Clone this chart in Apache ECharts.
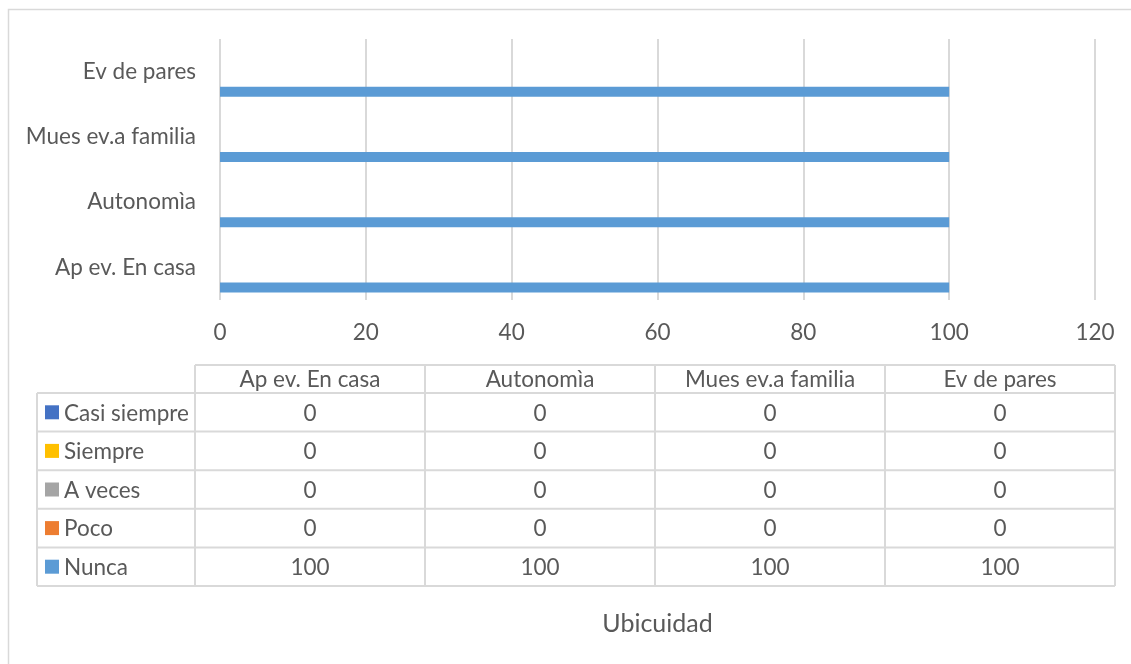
<!DOCTYPE html>
<html>
<head>
<meta charset="utf-8">
<script src="https://cdn.jsdelivr.net/npm/echarts@6/dist/echarts.min.js"></script>
<style>
html,body{margin:0;padding:0;background:#fff;}
#c{width:1131px;height:664px;}
</style>
</head>
<body>
<div id="c"></div>
<script>
// ---- data ----
const categories = ['Ap ev. En casa', 'Autonomìa', 'Mues ev.a familia', 'Ev de pares'];
const seriesNames = ['Casi siempre', 'Siempre', 'A veces', 'Poco', 'Nunca'];
const casiSiempre = [0, 0, 0, 0];
const siempre = [0, 0, 0, 0];
const aVeces = [0, 0, 0, 0];
const poco = [0, 0, 0, 0];
const nunca = [100, 100, 100, 100];
const seriesData = [casiSiempre, siempre, aVeces, poco, nunca];
const seriesColors = ['#4472C4', '#FFC000', '#A5A5A5', '#ED7D31', '#5B9BD5'];
const axisTitle = 'Ubicuidad';

// ---- style ----
const FONT = 'Lato';
const FS = 22.5;
const TXT = '#595959';
const LINE = '#D9D9D9';

const chart = echarts.init(document.getElementById('c'), null, {renderer: 'canvas'});

// table layout
const T = {left: 37, colStart: 195, colW: 230, top: 365, headH: 28, rowH: 38.6};
const tRight = T.colStart + T.colW * categories.length;
const gEls = [];
// outer frame
gEls.push({type: 'rect', shape: {x: 8.5, y: 9.5, width: 1140, height: 680},
  style: {fill: 'none', stroke: LINE, lineWidth: 1.5}, silent: true});
function hLine(x1, x2, y) {
  gEls.push({type: 'line', shape: {x1: x1, y1: y, x2: x2, y2: y}, style: {stroke: LINE, lineWidth: 2}, silent: true});
}
function vLine(x, y1, y2) {
  gEls.push({type: 'line', shape: {x1: x, y1: y1, x2: x, y2: y2}, style: {stroke: LINE, lineWidth: 2}, silent: true});
}
const rowTop0 = T.top + T.headH;
const tBottom = rowTop0 + T.rowH * seriesNames.length;
hLine(T.colStart, tRight, T.top);
for (let i = 0; i <= seriesNames.length; i++) hLine(T.left, tRight, rowTop0 + i * T.rowH);
vLine(T.left, rowTop0, tBottom);
for (let j = 0; j <= categories.length; j++) vLine(T.colStart + j * T.colW, T.top, tBottom);
// header
categories.forEach((c, j) => {
  gEls.push({type: 'text', x: T.colStart + (j + 0.5) * T.colW, y: T.top + T.headH / 2 + 1,
    style: {text: c, fill: TXT, font: FS + 'px ' + FONT, align: 'center', verticalAlign: 'middle'}, silent: true});
});
// rows
seriesNames.forEach((name, i) => {
  const cy = rowTop0 + (i + 0.5) * T.rowH;
  gEls.push({type: 'rect', shape: {x: 45, y: cy - 7, width: 14, height: 14}, style: {fill: seriesColors[i]}, silent: true});
  gEls.push({type: 'text', x: 64, y: cy + 1,
    style: {text: name, fill: TXT, font: FS + 'px ' + FONT, align: 'left', verticalAlign: 'middle'}, silent: true});
  seriesData[i].forEach((v, j) => {
    gEls.push({type: 'text', x: T.colStart + (j + 0.5) * T.colW, y: cy + 1,
      style: {text: String(v), fill: TXT, font: FS + 'px ' + FONT, align: 'center', verticalAlign: 'middle'}, silent: true});
  });
});
// axis title
gEls.push({type: 'text', x: (220 + 1095) / 2, y: 624,
  style: {text: axisTitle, fill: TXT, font: (FS + 2.5) + 'px ' + FONT, align: 'center', verticalAlign: 'middle'}, silent: true});

const option = {
  animation: false,
  backgroundColor: '#fff',
  textStyle: {fontFamily: FONT},
  grid: {left: 220, right: 36, top: 39, bottom: 364, containLabel: false},
  xAxis: {
    type: 'value', min: 0, max: 120, interval: 20,
    axisLine: {show: false}, axisTick: {show: false},
    axisLabel: {color: TXT, fontSize: FS, fontFamily: FONT, margin: 21},
    splitLine: {show: true, lineStyle: {color: LINE, width: 2}}
  },
  yAxis: {
    type: 'category', data: categories,
    axisLine: {show: false}, axisTick: {show: false},
    axisLabel: {color: TXT, fontSize: FS, fontFamily: FONT, margin: 24},
    splitLine: {show: false}
  },
  series: seriesNames.map((n, i) => ({
    name: n, type: 'bar', data: seriesData[i], barWidth: 10, barGap: '0%',
    itemStyle: {color: seriesColors[i]}
  })),
  graphic: gEls
};
chart.setOption(option);
</script>
</body>
</html>
